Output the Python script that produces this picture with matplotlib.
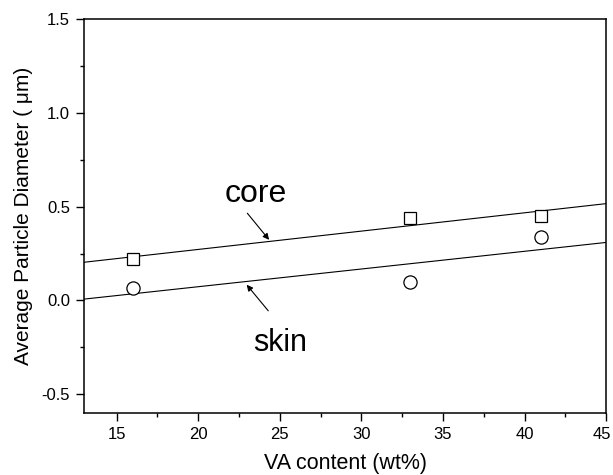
import numpy as np
import matplotlib
matplotlib.use('Agg')
import matplotlib.pyplot as plt
from matplotlib.ticker import MultipleLocator, FormatStrFormatter, FuncFormatter

plt.rcParams['font.family'] = ['Liberation Sans', 'DejaVu Sans']

# measured particle diameters
va_content = [16, 33, 41]
core_diam = [0.22, 0.44, 0.45]
skin_diam = [0.066, 0.10, 0.337]

fig = plt.figure(figsize=(6.13, 4.75), dpi=100)
ax = fig.add_axes([0.137, 0.131, 0.852, 0.828])

# linear fits drawn across the full x range
x_fit = np.array([13, 45])
for y in (core_diam, skin_diam):
    k, b = np.polyfit(va_content, y, 1)
    ax.plot(x_fit, k * x_fit + b, color='black', lw=0.8)

ax.plot(va_content, core_diam, 's', ms=8.5, mfc='white', mec='black', mew=0.9)
ax.plot(va_content, skin_diam, 'o', ms=9.5, mfc='white', mec='black', mew=0.9)

arrow = dict(arrowstyle='-|>', color='black', lw=0.8, mutation_scale=9)
ax.annotate('', xy=(24.45, 0.312), xytext=(22.9, 0.477), arrowprops=arrow)
ax.annotate('', xy=(22.86, 0.095), xytext=(24.4, -0.067), arrowprops=arrow)
ax.text(23.5, 0.523, 'core', fontsize=23, ha='center', va='baseline')
ax.text(25.0, -0.271, 'skin', fontsize=22, ha='center', va='baseline')

xmax = 45
ax.set_xlim(13, xmax)
ax.set_ylim(-0.6, 1.5)
ax.xaxis.set_major_locator(MultipleLocator(5))
ax.xaxis.set_minor_locator(MultipleLocator(2.5))
# last x label is drawn separately so it stays inside the figure
ax.xaxis.set_major_formatter(FuncFormatter(lambda v, p: '' if v >= xmax else '%g' % v))
ax.yaxis.set_major_locator(MultipleLocator(0.5))
ax.yaxis.set_minor_locator(MultipleLocator(0.25))
ax.yaxis.set_major_formatter(FormatStrFormatter('%.1f'))
ax.tick_params(which='major', direction='out', length=5.5, width=1.0,
               labelsize=12, pad=4.5)
ax.tick_params(which='minor', direction='out', length=3, width=1.0)
for sp in ax.spines.values():
    sp.set_linewidth(1.1)

ax.annotate('%g' % xmax, xy=(xmax, 0), xycoords=('data', 'axes fraction'),
            xytext=(-3, -10), textcoords='offset points',
            ha='center', va='top', fontsize=12)

ax.set_xlabel('VA content (wt%)', fontsize=15.5, labelpad=8)
ax.set_ylabel('Average Particle Diameter ( \u03bcm)', fontsize=15, labelpad=6)

fig.savefig('out.png', dpi=100)
